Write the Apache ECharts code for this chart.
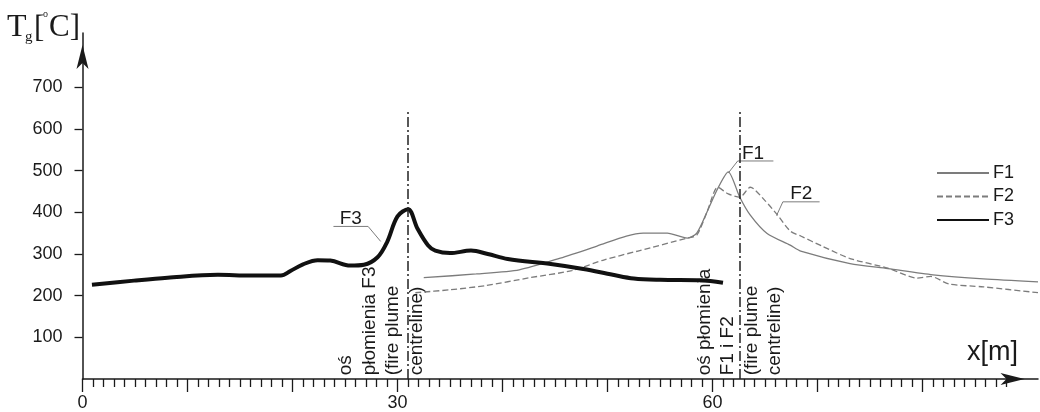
<!DOCTYPE html>
<html>
<head>
<meta charset="utf-8">
<title>Tg along x</title>
<script src="https://cdn.jsdelivr.net/npm/echarts@6.0.0/dist/echarts.min.js"></script>
<style>
html, body { margin: 0; padding: 0; background: #fff; }
#chart { width: 1040px; height: 412px; }
</style>
</head>
<body>
<div id="chart"></div>
<script>
// gas temperature Tg [°C] against distance x [m]
const f1 = [
    [32.5, 243], [37.5, 252], [41.6, 262], [45.5, 290], [49, 319], [51.8, 343], [53.4, 350],
    [55.7, 350], [57.6, 338], [58.5, 350], [59.5, 402], [60.5, 457], [61.5, 497], [62.6, 436],
    [63.6, 393], [65.2, 349], [67.4, 321], [68.4, 307], [73.1, 277], [76.7, 265], [81, 250],
    [85.8, 240], [91, 233]
]
const f2 = [
    [31.7, 207], [35, 214], [38.4, 224], [42.6, 243], [46.6, 260], [49.7, 286], [52.9, 307],
    [57.6, 338], [58.5, 345], [59.5, 402], [60.5, 460], [61.5, 444], [62.6, 436], [63.6, 460],
    [65, 428], [66.2, 393], [67.4, 355], [68.4, 343], [70.5, 318], [73.1, 289], [76.7, 266],
    [79.5, 242], [80.8, 246], [82.5, 228], [85.8, 221], [91, 207]
]
const f3 = [
    [0.9, 226], [4.9, 236], [8.1, 243], [12.9, 250], [16, 248], [18.9, 248], [19.8, 259],
    [21, 275], [22.4, 285], [23.6, 284], [25.5, 272], [26.8, 274], [28.1, 292], [29, 328],
    [30, 390], [31, 407], [31.9, 361], [32.9, 321], [33.6, 308], [35, 302], [37, 308],
    [38.6, 300], [40.5, 288], [44.6, 276], [47.7, 264], [50.5, 250], [52.5, 241], [55, 238],
    [58.9, 237], [61, 231]
]
const seriesNames = ['F1', 'F2', 'F3']

const yTicks = [100, 200, 300, 400, 500, 600, 700]
const xLabels = [0, 30, 60]
const xMajorTicks = [0, 10, 20, 30, 40, 50, 60, 70, 80]
const xMinorTicks = []
for (let i = 1; i <= 88; i++) {
    if (i % 10 !== 0) xMinorTicks.push(i)
}

// fire plume centrelines (x) and how high they are drawn
const centrelines = [31, 62.6]
const centrelineTop = 643

// callouts: label, text anchor, leader polyline (data coords)
const callouts = [
    { text: 'F3', at: [24.5, 385], leader: [[23.9, 366], [27.2, 366], [28.4, 330]] },
    { text: 'F1', at: [62.8, 541], leader: [[65.8, 523], [62.4, 523], [61.5, 494]] },
    { text: 'F2', at: [67.4, 444], leader: [[70.2, 425], [66.7, 425], [66.1, 392]] },
]
const plumeNotes = [
    { text: 'oś\npłomienia F3\n(fire plume\ncentreline)', at: [24.0, 8.8] },
    { text: 'oś płomienia\nF1 i F2\n(fire plume\ncentreline)', at: [58.1, 8.8] },
]

const sans = 'Liberation Sans, Arial, sans-serif'
const serif = 'Liberation Serif, Times New Roman, serif'
const ink = '#1a1a1a'
const grey = '#7c7c7c'

const chart = echarts.init(document.getElementById('chart'))

const option = {
    animation: false,
    backgroundColor: '#fff',
    grid: { left: 82.5, right: 2, top: 33, bottom: 30.3 },
    legend: {
        data: seriesNames,
        orient: 'vertical',
        left: 936,
        top: 164,
        padding: 0,
        itemWidth: 52,
        itemHeight: 14,
        itemGap: 5.5,
        selectedMode: false,
        itemStyle: { opacity: 0 },
        textStyle: { fontSize: 18, fontFamily: sans, color: ink, lineHeight: 18, padding: [0, 0, 0, -1] },
    },
    xAxis: [
        {
            type: 'value',
            min: 0,
            max: 91,
            interval: 10,
            splitLine: { show: false },
            axisLine: {
                show: true,
                onZero: false,
                symbol: ['none', 'arrow'],
                symbolSize: [9, 24],
                symbolOffset: [0, -13.5],
                lineStyle: { color: ink, width: 1.5 },
            },
            axisTick: { show: true, customValues: xMajorTicks, length: 13, lineStyle: { color: ink, width: 1.3 } },
            axisLabel: { customValues: xLabels, margin: 15, fontSize: 18, fontFamily: sans, color: ink },
        },
        {
            type: 'value',
            min: 0,
            max: 91,
            interval: 10,
            position: 'bottom',
            splitLine: { show: false },
            axisLine: { show: false },
            axisTick: { show: true, customValues: xMinorTicks, length: 8, lineStyle: { color: ink, width: 1.3 } },
            axisLabel: { show: false },
        },
    ],
    yAxis: {
        type: 'value',
        min: 0,
        max: 830,
        interval: 100,
        splitLine: { show: false },
        axisLine: {
            show: true,
            onZero: false,
            symbol: ['none', 'arrow'],
            symbolSize: [9, 24],
            symbolOffset: [0, -12],
            lineStyle: { color: ink, width: 1.5 },
        },
        axisTick: { show: true, customValues: yTicks, length: 8, lineStyle: { color: ink, width: 1.3 } },
        axisLabel: { customValues: yTicks, margin: 20, fontSize: 18, fontFamily: sans, color: ink },
    },
    series: [
        {
            name: 'F1',
            type: 'line',
            data: f1,
            symbol: 'none',
            smooth: 0.25,
            lineStyle: { color: grey, width: 1.3 },
            itemStyle: { color: grey },
            z: 3,
        },
        {
            name: 'F2',
            type: 'line',
            data: f2,
            symbol: 'none',
            smooth: 0.25,
            lineStyle: { color: grey, width: 1.3, type: [6, 3] },
            itemStyle: { color: grey },
            z: 3,
        },
        {
            name: 'F3',
            type: 'line',
            data: f3,
            symbol: 'none',
            smooth: 0.35,
            lineStyle: { color: '#111', width: 4 },
            itemStyle: { color: '#111' },
            z: 4,
            markLine: {
                silent: true,
                symbol: ['none', 'none'],
                label: { show: false },
                lineStyle: { color: '#222', width: 1.5, type: [10, 3, 2, 3] },
                data: centrelines.map(x => [{ coord: [x, 0] }, { coord: [x, centrelineTop] }]),
            },
        },
    ],
}

chart.setOption(option)

// annotations placed through the grid's own scale
const toPx = p => chart.convertToPixel({ seriesIndex: 0 }, p)
const graphics = []

callouts.forEach(c => {
    graphics.push({
        type: 'polyline',
        shape: { points: c.leader.map(toPx) },
        style: { stroke: grey, lineWidth: 1, fill: null },
        silent: true,
    })
    const p = toPx(c.at)
    graphics.push({
        type: 'text',
        x: p[0],
        y: p[1],
        style: { text: c.text, fontSize: 19, fontFamily: sans, fill: ink, align: 'left', verticalAlign: 'middle' },
        silent: true,
    })
})

plumeNotes.forEach(n => {
    const p = toPx(n.at)
    graphics.push({
        type: 'text',
        x: p[0],
        y: p[1],
        rotation: Math.PI / 2,
        style: {
            text: n.text, fontSize: 19, fontFamily: sans, fill: ink,
            align: 'left', verticalAlign: 'top', lineHeight: 23.5,
        },
        silent: true,
    })
})

// axis titles: Tg[°C] and x[m]
const titleBits = [
    { text: 'T', x: 7, y: 28, size: 32 },
    { text: 'g', x: 25, y: 37, size: 15 },
    { text: '[', x: 34, y: 29, size: 31 },
    { text: 'o', x: 43, y: 14, size: 10 },
    { text: 'C]', x: 49, y: 28, size: 31 },
]
titleBits.forEach(b => {
    graphics.push({
        type: 'text', x: b.x, y: b.y,
        style: { text: b.text, fontSize: b.size, fontFamily: serif, fill: ink, align: 'left', verticalAlign: 'middle' },
        silent: true,
    })
})
graphics.push({
    type: 'text', x: 967, y: 353,
    style: { text: 'x[m]', fontSize: 27, fontFamily: sans, fill: ink, align: 'left', verticalAlign: 'middle' },
    silent: true,
})

chart.setOption({ graphic: graphics })
</script>
</body>
</html>
